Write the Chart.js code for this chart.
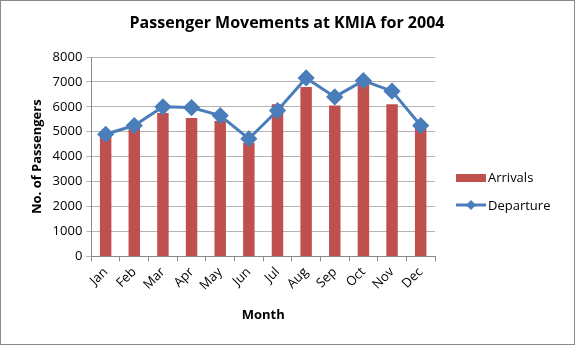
<!DOCTYPE html>
<html><head><meta charset="utf-8">
<script src="https://cdn.jsdelivr.net/npm/chart.js@4/dist/chart.umd.min.js"></script>
<style>
html,body{margin:0;padding:0;background:#fff;}
#wrap{width:575px;height:345px;box-sizing:border-box;border:1px solid #8a8a8a;background:#fff;}
canvas{display:block;}
</style></head>
<body>
<div id="wrap"><canvas id="c" width="573" height="343"></canvas></div>
<script>
const months = ['Jan','Feb','Mar','Apr','May','Jun','Jul','Aug','Sep','Oct','Nov','Dec'];
const arrivals = [4800,5200,5750,5550,5430,4550,6100,6800,6050,6950,6100,5220];
const departures = [4900,5250,6000,5970,5650,4720,5850,7160,6400,7050,6630,5250];
const yTicks = [0,1000,2000,3000,4000,5000,6000,7000,8000];
const titleText = 'Passenger Movements at KMIA for 2004';

const FONT = "'Open Sans', 'Noto Sans', sans-serif";
const RED = '#C0504D';
const BLUE = '#4A7EBB';

const decorPlugin = {
  id: 'decor',
  afterDraw(chart) {
    const ctx = chart.ctx;
    ctx.save();
    ctx.fillStyle = '#000';
    ctx.font = "bold 16px " + FONT;
    ctx.textAlign = 'center';
    ctx.textBaseline = 'middle';
    ctx.fillText(titleText, 286, 22);
    ctx.textAlign = 'left';
    const x0 = 455;
    ctx.fillStyle = RED;
    ctx.fillRect(x0, 173, 30, 8);
    ctx.fillStyle = '#000';
    ctx.font = "13px " + FONT;
    ctx.fillText('Arrivals', x0 + 32, 177);
    ctx.strokeStyle = BLUE;
    ctx.lineWidth = 3;
    ctx.beginPath();
    ctx.moveTo(x0, 204); ctx.lineTo(x0 + 30, 204); ctx.stroke();
    ctx.fillStyle = BLUE;
    ctx.beginPath();
    const cx = x0 + 15, cy = 204, r = 5;
    ctx.moveTo(cx, cy - r); ctx.lineTo(cx + r, cy); ctx.lineTo(cx, cy + r); ctx.lineTo(cx - r, cy); ctx.closePath(); ctx.fill();
    ctx.fillStyle = '#000';
    ctx.fillText('Departure', x0 + 32, 205);
    ctx.restore();
  }
};

new Chart(document.getElementById('c'), {
  type: 'bar',
  data: {
    labels: months,
    datasets: [
      {
        type: 'line',
        label: 'Departure',
        data: departures,
        borderColor: BLUE,
        backgroundColor: BLUE,
        borderWidth: 3,
        pointStyle: 'rectRot',
        pointRadius: 6.5,
        pointHoverRadius: 6.5,
        pointBackgroundColor: BLUE,
        pointBorderColor: BLUE,
        tension: 0,
        order: 0
      },
      {
        label: 'Arrivals',
        data: arrivals,
        backgroundColor: RED,
        borderWidth: 0,
        categoryPercentage: 1,
        barPercentage: 0.4,
        order: 1
      }
    ]
  },
  options: {
    responsive: false,
    animation: false,
    devicePixelRatio: 1,
    layout: { padding: { left: 24, right: 139, top: 56, bottom: 17 } },
    plugins: {
      legend: { display: false },
      tooltip: { enabled: false },
      title: { display: false }
    },
    scales: {
      x: {
        offset: true,
        grid: { display: true, drawOnChartArea: false, offset: true, tickLength: 5, color: '#8a8a8a' },
        border: { color: '#8a8a8a' },
        ticks: { color: '#000', font: { family: FONT, size: 13 }, maxRotation: 45, minRotation: 45, padding: 3 },
        title: { display: true, text: 'Month', color: '#000', font: { family: FONT, size: 13, weight: 'bold' }, padding: { top: 11 } }
      },
      y: {
        min: 0, max: 8000,
        afterBuildTicks(axis) { axis.ticks = yTicks.map(v => ({ value: v })); },
        grid: { color: '#b4b4b4', tickLength: 5, drawTicks: true },
        border: { color: '#8a8a8a' },
        ticks: { color: '#000', font: { family: FONT, size: 13 }, padding: 4, callback: v => String(v) },
        title: { display: true, text: 'No. of Passengers', color: '#000', font: { family: FONT, size: 13, weight: 'bold' }, padding: { bottom: 4 } }
      }
    }
  },
  plugins: [decorPlugin]
});
</script>
</body></html>
